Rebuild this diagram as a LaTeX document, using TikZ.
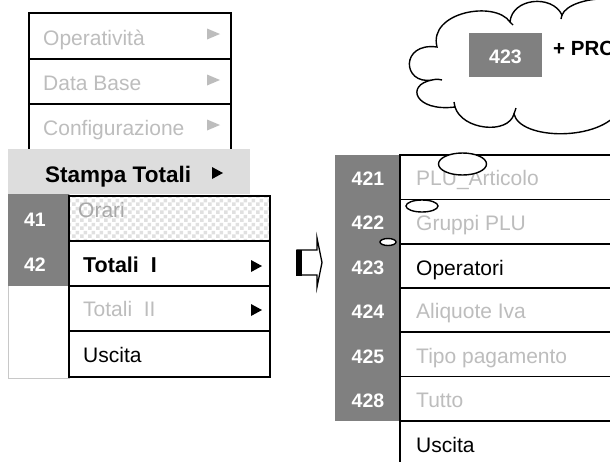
\documentclass[tikz,border=0pt]{standalone}
\usepackage{fontspec}
\setmainfont{Liberation Sans}
\usetikzlibrary{shapes.geometric,patterns.meta}
\definecolor{dgray}{HTML}{808080}
\definecolor{bandgray}{HTML}{DDDDDD}
\definecolor{ltxt}{HTML}{BDBDBD}
\definecolor{otxt}{HTML}{A8A8A8}
\definecolor{chk}{HTML}{E0E0E0}
\definecolor{framegray}{HTML}{C8C8C8}
\tikzdeclarepattern{name=mychecker, type=uncolored,
  bounding box={(0pt,0pt) and (8pt,8pt)}, tile size={(8pt,8pt)},
  code={\fill (0pt,0pt) rectangle (4pt,4pt); \fill (4pt,4pt) rectangle (8pt,8pt);}}
\begin{document}
\begin{tikzpicture}[x=1pt,y=-1pt,
  box/.style={draw=black, line width=1.4pt, fill=white},
  reg/.style={anchor=base west, inner sep=0pt, font=\fontsize{21}{25}\selectfont},
  gtxt/.style={reg, text=ltxt},
  btxt/.style={reg, text=black},
  bold/.style={anchor=base west, inner sep=0pt, font=\fontsize{21.5}{25}\selectfont\bfseries},
  num/.style={anchor=base, inner sep=0pt, text=white, font=\fontsize{19.5}{23}\selectfont\bfseries},
  ell/.style={ellipse, draw=black, line width=1.4pt, fill=white, inner sep=0pt},
  cloudline/.style={draw=black, line width=1.4pt}
]
\useasboundingbox (0,0) rectangle (610,461);
\clip (0,0) rectangle (610,461);
\fill[white] (0,0) rectangle (610,461);

% ---------- upper left menu ----------
\draw[box] (29,13) rectangle (231,59);
\draw[box] (29,59) rectangle (231,104);
\draw[box] (29,104) rectangle (231,152);
\node[gtxt] (op) at (43,45) {Operatività};
\node[gtxt] (db) at (43,90) {Data Base};
\node[gtxt] (cf) at (43,135) {Configurazione};
\fill[ltxt] (207,28.5) -- (220,34) -- (207,39.5) -- cycle;
\fill[ltxt] (207,74.5) -- (220,80) -- (207,85.5) -- cycle;
\fill[ltxt] (207,119.5) -- (220,125) -- (207,130.5) -- cycle;

% ---------- Stampa Totali panel ----------
\draw[draw=framegray, line width=1pt, fill=white] (8,149) rectangle (69,378);
\fill[bandgray] (8,149) rectangle (250,194);
\fill[dgray] (8,194) rectangle (69,286);
\node[bold, font=\fontsize{22.5}{26}\selectfont\bfseries] (st) at (45,182) {Stampa Totali};
\fill[black] (212,167) -- (223,173) -- (212,179) -- cycle;
\node[num] (n41) at (35,226) {41};
\node[num] (n42) at (35,271) {42};

\fill[white] (69,196) rectangle (270,241);
\fill[pattern=mychecker, pattern color=chk] (69,196) rectangle (270,241);
\draw[black, line width=1.4pt] (69,196) rectangle (270,241);
\draw[box] (69,241) rectangle (270,286);
\draw[box] (69,286) rectangle (270,331);
\draw[box] (69,331) rectangle (270,377);
\node[reg, text=otxt] (or) at (78,217) {Orari};
\node[bold] (t1) at (83,272) {Totali\ \ I};
\node[gtxt] (t2) at (83,316) {Totali\ \ II};
\node[btxt] (us1) at (83,362) {Uscita};
\fill[black] (251,260) -- (262,266) -- (251,272) -- cycle;
\fill[black] (251,304) -- (262,310) -- (251,316) -- cycle;

% ---------- hollow arrow ----------
\draw[black, line width=1.3pt, fill=white, line join=miter]
  (297,250) -- (317,250) -- (317,238) -- (322,262.5) -- (317,287) -- (317,275) -- (297,275) -- cycle;
\fill[black] (296,249.5) rectangle (301.5,275.5);

% ---------- right menu ----------
\fill[dgray] (335,155) rectangle (400,421);
\draw[box] (400,155) rectangle (640,199.5);
\draw[box] (400,199.5) rectangle (640,244);
\draw[box] (400,244) rectangle (640,288);
\draw[box] (400,288) rectangle (640,332);
\draw[box] (400,332) rectangle (640,376.5);
\draw[box] (400,376.5) rectangle (640,421);
\draw[box] (400,421) rectangle (640,468);
\node[num] (n421) at (368,185) {421};
\node[num] (n422) at (368,229.5) {422};
\node[num] (n423) at (368,274) {423};
\node[num] (n424) at (368,318) {424};
\node[num] (n425) at (368,363) {425};
\node[num] (n428) at (368,407) {428};
\node[gtxt] (plu) at (416,185) {PLU\_Articolo};
\node[gtxt] (grp) at (416,230) {Gruppi PLU};
\node[btxt] (ope) at (416,275) {Operatori};
\node[gtxt] (iva) at (416,318) {Aliquote Iva};
\node[gtxt] (pag) at (416,363) {Tipo pagamento};
\node[gtxt] (tut) at (416,407) {Tutto};
\node[btxt] (us2) at (416,452) {Uscita};

% ---------- ellipses ----------
\node[ell, minimum width=48pt, minimum height=22pt] (e1) at (462.5,164) {};
\node[ell, minimum width=32pt, minimum height=12pt] (e2) at (422,206) {};
\node[ell, minimum width=16pt, minimum height=7pt] (e3) at (388,242) {};

% ---------- cloud ----------
\path[cloudline, fill=white]
  (437,47) .. controls (428,12) and (495,0) .. (510,22)
  .. controls (512,-2) and (552,-6) .. (562,15)
  .. controls (570,-5) and (640,-10) .. (650,20)
  -- (670,60) -- (660,100) -- (620,110)
  .. controls (600,142) and (520,140) .. (514,114)
  .. controls (508,135) and (462,130) .. (455,107)
  .. controls (415,112) and (405,85) .. (432,80)
  .. controls (402,85) and (400,42) .. (437,47) -- cycle;
\draw[cloudline] (432,80) .. controls (437,79) .. (442,80);
\draw[cloudline] (510,22) .. controls (511,23) .. (513,25);
\draw[cloudline] (562,15) .. controls (562,17) .. (561,19);
\draw[cloudline] (455,107) .. controls (455,104) .. (454,102);
\draw[cloudline] (514,114) .. controls (515,111) .. (516,108);
\fill[dgray] (469,33) rectangle (542,77);
\node[num] (c423) at (505.5,63) {423};
\node[anchor=base west, inner sep=0pt, font=\fontsize{20.5}{24}\selectfont\bfseries] (pro) at (553,55) {+ PRO};
\end{tikzpicture}
\end{document}
